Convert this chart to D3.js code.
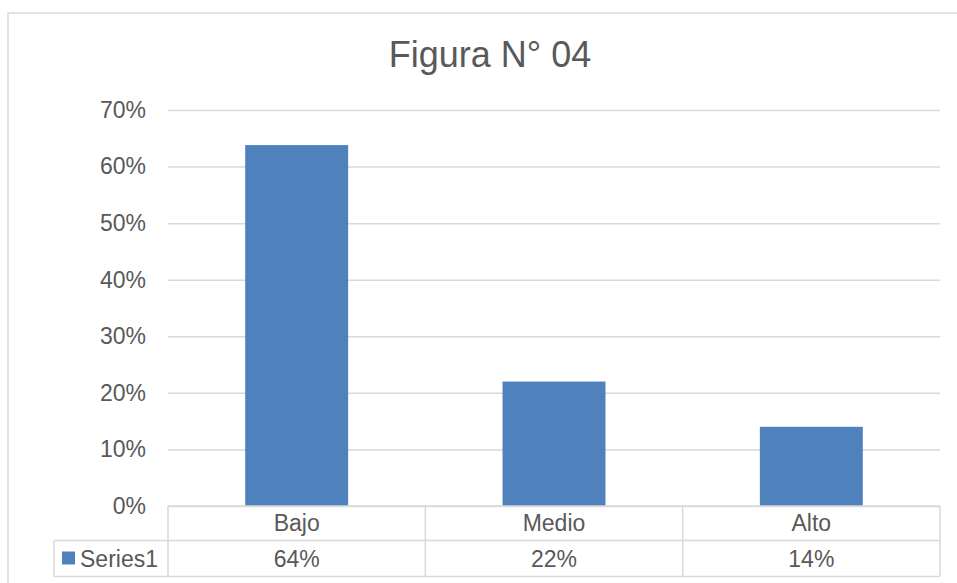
<!DOCTYPE html>
<html>
<head>
<meta charset="utf-8">
<script src="https://cdn.jsdelivr.net/npm/d3@7"></script>
<style>
  html, body { margin: 0; padding: 0; background: #fff; overflow: hidden; }
  svg { display: block; font-family: "Liberation Sans", Arial, sans-serif; }
</style>
</head>
<body>
<svg id="chart" width="957" height="583"></svg>
<script>
const categories = ["Bajo", "Medio", "Alto"];
const seriesName = "Series1";
const values = [0.638, 0.22, 0.14];
const yTicks = [0, 0.1, 0.2, 0.3, 0.4, 0.5, 0.6, 0.7];
const title = "Figura N° 04";

const svg = d3.select("#chart");
const textColor = "#595959";
const lineColor = "#D9D9D9";
const barColor = "#4F81BD";

// outer chart border (extends beyond the visible window)
svg.append("rect").attr("x", 8).attr("y", 13).attr("width", 1000).attr("height", 620)
  .attr("fill", "#fff").attr("stroke", lineColor).attr("stroke-width", 1.5);

const plotLeft = 168, plotRight = 940, plotTop = 110, plotBottom = 506;
const x = d3.scaleBand().domain(categories).range([plotLeft, plotRight]).padding(0);
const y = d3.scaleLinear().domain([0, 0.7]).range([plotBottom, plotTop]);
const pct = d3.format(".0%");

// title
svg.append("text").attr("x", 490).attr("y", 67).attr("text-anchor", "middle")
  .attr("font-size", 36).attr("fill", textColor).text(title);

// y axis with gridlines
const yAxis = d3.axisLeft(y).tickValues(yTicks).tickFormat(pct)
  .tickSizeInner(-(plotRight - plotLeft)).tickSizeOuter(0).tickPadding(22);
const gy = svg.append("g").attr("transform", `translate(${plotLeft},0)`).call(yAxis);
gy.select(".domain").remove();
gy.selectAll(".tick line").attr("stroke", lineColor).attr("stroke-width", 1.5);
gy.selectAll(".tick text").attr("fill", textColor).attr("font-size", 23)
  .attr("font-family", "'Liberation Sans', Arial, sans-serif");

// bars
const bw = x.bandwidth() * 0.4;
svg.append("g").selectAll("rect").data(values).join("rect")
  .attr("x", (d, i) => x(categories[i]) + (x.bandwidth() - bw) / 2)
  .attr("width", bw)
  .attr("y", d => y(d))
  .attr("height", d => y(0) - y(d))
  .attr("fill", barColor);

// data table
const row1Top = plotBottom, row1Bot = 540.5, row2Bot = 576.5, legendLeft = 54;
const tbl = svg.append("g").attr("stroke", lineColor).attr("stroke-width", 1.5).attr("fill", "none");
tbl.append("line").attr("x1", plotLeft).attr("x2", plotRight).attr("y1", row1Top).attr("y2", row1Top);
tbl.append("line").attr("x1", legendLeft).attr("x2", plotRight).attr("y1", row1Bot).attr("y2", row1Bot);
tbl.append("line").attr("x1", legendLeft).attr("x2", plotRight).attr("y1", row2Bot).attr("y2", row2Bot);
tbl.append("line").attr("x1", legendLeft).attr("x2", legendLeft).attr("y1", row1Bot).attr("y2", row2Bot);
const colEdges = categories.map(c => x(c)).concat([plotRight]);
tbl.selectAll("line.v").data(colEdges).join("line").attr("class", "v")
  .attr("x1", d => d).attr("x2", d => d).attr("y1", row1Top).attr("y2", row2Bot);

// category labels
svg.append("g").selectAll("text").data(categories).join("text")
  .attr("x", d => x(d) + x.bandwidth() / 2)
  .attr("y", (row1Top + row1Bot) / 2 + 8)
  .attr("text-anchor", "middle").attr("font-size", 23).attr("fill", textColor)
  .text(d => d);

// value labels
svg.append("g").selectAll("text").data(values).join("text")
  .attr("x", (d, i) => x(categories[i]) + x.bandwidth() / 2)
  .attr("y", (row1Bot + row2Bot) / 2 + 8)
  .attr("text-anchor", "middle").attr("font-size", 23).attr("fill", textColor)
  .text(d => pct(d));

// legend key
svg.append("rect").attr("x", 62).attr("y", 551.5).attr("width", 13).attr("height", 13).attr("fill", barColor);
svg.append("text").attr("x", 80).attr("y", (row1Bot + row2Bot) / 2 + 8)
  .attr("font-size", 23).attr("fill", textColor).text(seriesName);
</script>
</body>
</html>
